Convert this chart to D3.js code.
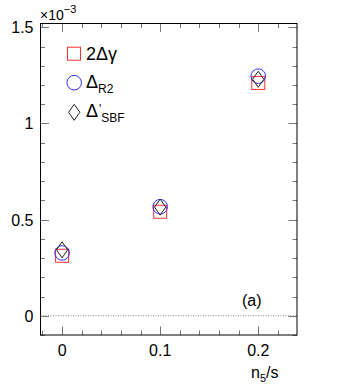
<!DOCTYPE html>
<html><head><meta charset="utf-8">
<script src="https://cdn.jsdelivr.net/npm/d3@7"></script>
<style>body{margin:0;background:#fff}svg{display:block}text{font-family:"Liberation Sans",Arial,sans-serif}</style>
</head><body>
<script>
const xVals = [0, 0.1, 0.2];
const gamma2 = [0.312, 0.541, 1.211];
const deltaR2 = [0.327, 0.567, 1.246];
const deltaSBF = [0.343, 0.565, 1.230];
const xTickLabels = ["0", "0.1", "0.2"];
const yTickLabels = ["0", "0.5", "1", "1.5"];

const W = 338, H = 390;
const L = 40.5, R = 297, T = 23.5, B = 335;
const svg = d3.select("body").append("svg").attr("width", W).attr("height", H);
const x = d3.scaleLinear().domain([-0.022, 0.2395]).range([L, R]);
const y = d3.scaleLinear().domain([-0.1, 1.52]).range([B, T]);

// dotted zero line
svg.append("line").attr("x1", L).attr("x2", R).attr("y1", y(0)).attr("y2", y(0))
  .attr("stroke", "#888").attr("stroke-width", 1).attr("stroke-dasharray", "1,1.5");

const tickCol = "#777";
// x ticks
const xMinor = d3.range(-0.02, 0.2301, 0.02);
xMinor.forEach(v => {
  const major = Math.abs(v / 0.1 - Math.round(v / 0.1)) < 1e-6;
  const len = major ? 8.5 : 4.5;
  const px = Math.round(x(v)) + 0.5;
  svg.append("line").attr("x1", px).attr("x2", px).attr("y1", B).attr("y2", B - len).attr("stroke", tickCol);
  svg.append("line").attr("x1", px).attr("x2", px).attr("y1", T).attr("y2", T + len).attr("stroke", tickCol);
});
// y ticks
const yMinor = d3.range(-0.1, 1.501, 0.1);
yMinor.forEach(v => {
  const major = Math.abs(v / 0.5 - Math.round(v / 0.5)) < 1e-6;
  const len = major ? 8.5 : 4.5;
  const py = Math.round(y(v)) + 0.5;
  svg.append("line").attr("x1", L).attr("x2", L + len).attr("y1", py).attr("y2", py).attr("stroke", tickCol);
  svg.append("line").attr("x1", R).attr("x2", R - len).attr("y1", py).attr("y2", py).attr("stroke", tickCol);
});

// frame
svg.append("rect").attr("x", L).attr("y", T).attr("width", R - L).attr("height", B - T)
  .attr("fill", "none").attr("stroke", "#000").attr("stroke-width", 1);

// tick labels
[0, 0.1, 0.2].forEach((v, i) => {
  svg.append("text").attr("x", x(v)).attr("y", 356).attr("text-anchor", "middle")
    .attr("font-size", 16).text(xTickLabels[i]);
});
[0, 0.5, 1, 1.5].forEach((v, i) => {
  svg.append("text").attr("x", 33.5).attr("y", y(v) + 6).attr("text-anchor", "end")
    .attr("font-size", 16).text(yTickLabels[i]);
});

// exponent
const ex = svg.append("text").attr("x", 40).attr("y", 20).attr("font-size", 14);
ex.append("tspan").text("\u00d710");
ex.append("tspan").attr("dy", -7).attr("font-size", 11).text("\u22123");

// axis title
const xt = svg.append("text").attr("x", 251).attr("y", 378).attr("font-size", 16);
xt.append("tspan").text("n");
xt.append("tspan").attr("dy", 4).attr("font-size", 11).text("5");
xt.append("tspan").attr("dy", -4).text("/s");

svg.append("text").attr("x", 242).attr("y", 306).attr("font-size", 16).text("(a)");

// markers
function square(g, cx, cy) {
  g.append("rect").attr("x", cx - 6.5).attr("y", cy - 6.5).attr("width", 13).attr("height", 13)
    .attr("fill", "none").attr("stroke", "#ff3030").attr("stroke-width", 1);
}
function circle(g, cx, cy) {
  g.append("circle").attr("cx", cx).attr("cy", cy).attr("r", 7.3)
    .attr("fill", "none").attr("stroke", "#3030ff").attr("stroke-width", 1);
}
function diamond(g, cx, cy) {
  g.append("path").attr("d", `M${cx},${cy - 8}L${cx + 5.6},${cy}L${cx},${cy + 8}L${cx - 5.6},${cy}Z`)
    .attr("fill", "none").attr("stroke", "#222").attr("stroke-width", 1);
}
const g = svg.append("g");
xVals.forEach((v, i) => {
  square(g, x(v), y(gamma2[i]));
  circle(g, x(v), y(deltaR2[i]));
  diamond(g, x(v), y(deltaSBF[i]));
});

// legend
square(g, 74, 53.7);
circle(g, 74.2, 82.7);
diamond(g, 74.2, 112.3);
svg.append("text").attr("x", 86).attr("y", 59.5).attr("font-size", 18).text("2\u0394\u03b3");
const l2 = svg.append("text").attr("x", 86).attr("y", 88).attr("font-size", 18);
l2.append("tspan").text("\u0394");
l2.append("tspan").attr("dy", 5).attr("font-size", 12).text("R2");
const l3 = svg.append("text").attr("x", 86).attr("y", 116.5).attr("font-size", 18);
l3.append("tspan").text("\u0394");
l3.append("tspan").attr("dx", 1).attr("dy", -4).attr("font-size", 12).text("'");
l3.append("tspan").attr("dy", 9).attr("font-size", 12).text("SBF");
</script>
</body></html>
